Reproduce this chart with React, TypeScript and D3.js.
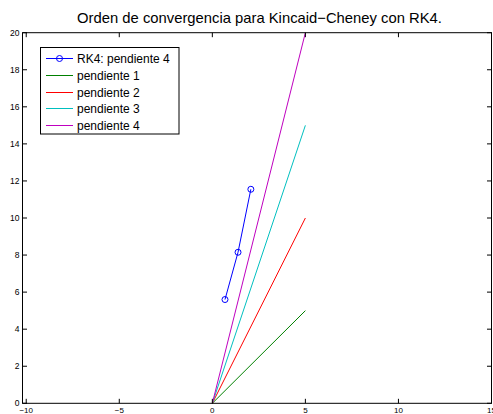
import React from "react";
import * as d3 from "d3";

const title = "Orden de convergencia para Kincaid−Cheney con RK4.";
const xTicks = [-10, -5, 0, 5, 10, 15];
const yTicks = [0, 2, 4, 6, 8, 10, 12, 14, 16, 18, 20];
const rkX = [0.68, 1.38, 2.07];
const rkY = [5.6, 8.15, 11.55];
const slopes = [1, 2, 3, 4];
const slopeX = [0, 5];
const slopeColors = ["#008000", "#ff0000", "#00bfbf", "#bf00bf"];
const legendLabels = ["RK4: pendiente 4", "pendiente 1", "pendiente 2", "pendiente 3", "pendiente 4"];

export default function App() {
  const W = 493, H = 414;
  const left = 22.5, right = 491.5, top = 32.7, bottom = 403.3;
  const x = d3.scaleLinear().domain([-10.2, 15]).range([left, right]);
  const y = d3.scaleLinear().domain([0, 20]).range([bottom, top]);
  const line = d3.line<[number, number]>().x(d => x(d[0])).y(d => y(d[1]));
  const rkPts: [number, number][] = rkX.map((v, i) => [v, rkY[i]]);
  const tl = 4.5;
  const font = "Liberation Sans, Arial, sans-serif";
  const legendColors = ["#0000ff", ...slopeColors];
  return (
    <svg width={W} height={H} style={{ position: "absolute", left: 0, top: 0 }}>
      <rect x={0} y={0} width={W} height={H} fill="#fff" />
      <text x={259.5} y={22.5} textAnchor="middle" fontFamily={font} fontSize={14.8} fill="#000">{title}</text>
      <defs>
        <clipPath id="c"><rect x={left} y={top - 1} width={right - left} height={bottom - top + 2} /></clipPath>
      </defs>
      <g clipPath="url(#c)">
        {slopes.map((s, i) => (
          <path key={s} d={line(slopeX.map(v => [v, v * s]) as [number, number][]) || ""} stroke={slopeColors[i]} strokeWidth={1} fill="none" />
        ))}
        <path d={line(rkPts) || ""} stroke="#0000ff" fill="none" strokeWidth={1} />
        {rkPts.map((p, i) => (
          <circle key={i} cx={x(p[0])} cy={y(p[1])} r={3} stroke="#0000ff" fill="none" strokeWidth={1} />
        ))}
      </g>
      {xTicks.map(t => (
        <g key={"x" + t}>
          <line x1={x(t)} x2={x(t)} y1={bottom} y2={bottom - tl} stroke="#000" />
          <line x1={x(t)} x2={x(t)} y1={top} y2={top + tl} stroke="#000" />
          <text x={x(t)} y={413} textAnchor="middle" fontFamily={font} fontSize={8} fill="#000">{t < 0 ? "−" + Math.abs(t) : t}</text>
        </g>
      ))}
      {yTicks.map(t => (
        <g key={"y" + t}>
          <line x1={left} x2={left + tl} y1={y(t)} y2={y(t)} stroke="#000" />
          <line x1={right} x2={right - tl} y1={y(t)} y2={y(t)} stroke="#000" />
          <text x={left - 3} y={y(t) + 3} textAnchor="end" fontFamily={font} fontSize={8.5} fill="#000">{t}</text>
        </g>
      ))}
      <rect x={left} y={top} width={right - left} height={bottom - top} fill="none" stroke="#000" strokeWidth={1} />
      <rect x={40.5} y={47.5} width={138.5} height={86.5} fill="#fff" stroke="#000" strokeWidth={1} />
      {legendLabels.map((l, i) => {
        const yy = Math.round(57.7 + i * 16.9) + 0.5;
        return (
          <g key={l}>
            <line x1={46} x2={73} y1={yy} y2={yy} stroke={legendColors[i]} strokeWidth={1} />
            {i === 0 && <circle cx={59.5} cy={yy} r={3} stroke="#0000ff" fill="none" />}
            <text x={77} y={yy + 4} fontFamily={font} fontSize={12} fill="#000">{l}</text>
          </g>
        );
      })}
    </svg>
  );
}
